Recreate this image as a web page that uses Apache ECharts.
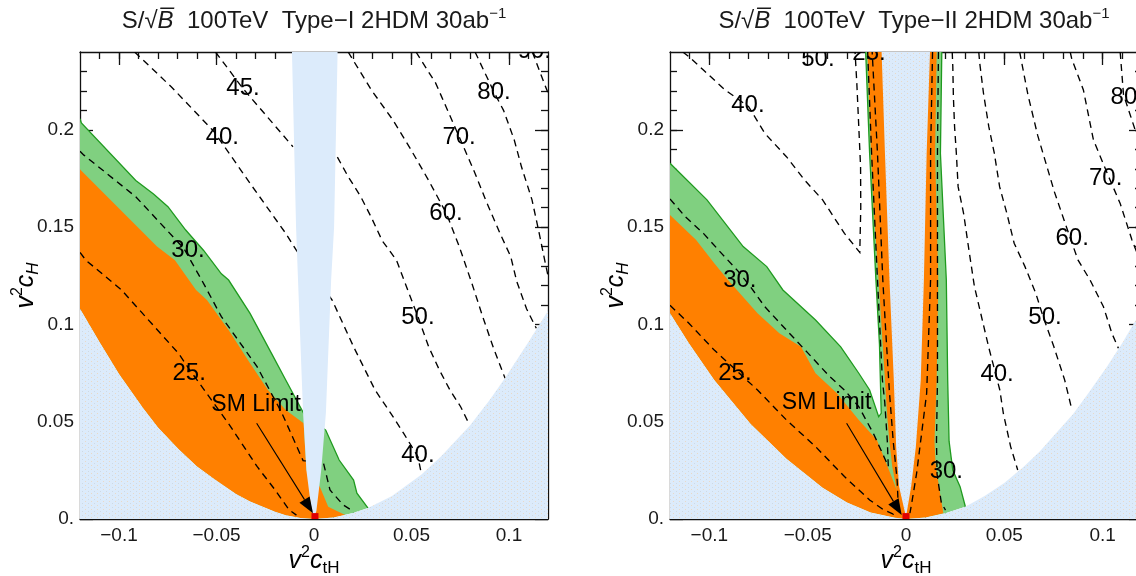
<!DOCTYPE html>
<html><head><meta charset="utf-8">
<script src="https://cdn.jsdelivr.net/npm/echarts@6/dist/echarts.min.js"></script>
<style>html,body{margin:0;padding:0;background:#fff}#c{width:1136px;height:576px}</style>
</head><body><div id="c"></div>
<script>
// ---------------- axes ----------------
const X_RANGE = [-0.12, 0.12];
const Y_RANGE = [0, 0.24];
const X_MAJOR = [-0.1, -0.05, 0, 0.05, 0.1];
const X_MINOR = [-0.11,-0.1,-0.09,-0.08,-0.07,-0.06,-0.05,-0.04,-0.03,-0.02,-0.01,0,0.01,0.02,0.03,0.04,0.05,0.06,0.07,0.08,0.09,0.1,0.11];
const Y_MAJOR = [0, 0.05, 0.1, 0.15, 0.2];
const Y_MINOR = [0.01,0.02,0.03,0.04,0.05,0.06,0.07,0.08,0.09,0.1,0.11,0.12,0.13,0.14,0.15,0.16,0.17,0.18,0.19,0.2,0.21,0.22,0.23];
const TITLES = ['Type\u2212I', 'Type\u2212II'];

// ---------------- Panel A (Type-I) ----------------
const A_BLUE_EDGE = [[-0.12,0.108],[-0.11,0.091],[-0.1,0.0745],[-0.0877,0.057],[-0.08,0.047],[-0.0694,0.0358],[-0.06,0.027],[-0.0512,0.0205],[-0.04,0.0128],[-0.0328,0.009],[-0.02,0.0037],[-0.0145,0.0019],[-0.007,0.0005],[0,0],[0.01,0.0008],[0.02,0.0031],[0.0277,0.0056],[0.04,0.0118],[0.055,0.0228],[0.065,0.032],[0.08,0.048],[0.09,0.061],[0.098,0.0724],[0.11,0.091],[0.12,0.107]];
const A_WEDGE = [[-0.0113,0.24],[0.0121,0.24],[0.0103,0.15],[0.0088,0.123],[0.0061,0.0545],[0.0037,0.025],[0.0012,0.004],[0,0.001],[-0.0012,0.004],[-0.0039,0.025],[-0.0056,0.0545],[-0.0082,0.123],[-0.0092,0.15]];
const A_GREEN_EDGE = [[-0.12,0.2057],[-0.1193,0.2035],[-0.0914,0.174],[-0.0823,0.167],[-0.0749,0.1605],[-0.0658,0.1485],[-0.0566,0.138],[-0.0475,0.126],[-0.0438,0.1228],[-0.0328,0.1057],[-0.0218,0.0851],[-0.0145,0.0714],[-0.0053,0.0543],[0.006,0.0457],[0.0129,0.0303],[0.0203,0.02],[0.022,0.0133],[0.0277,0.0056]];
const A_ORANGE_EDGE = [[-0.12,0.1798],[-0.1193,0.179],[-0.0805,0.14],[-0.0713,0.133],[-0.0605,0.1177],[-0.0549,0.1125],[-0.0438,0.0971],[-0.0328,0.08],[-0.0236,0.0663],[-0.0145,0.056],[-0.0053,0.0492],[-0.0039,0.025],[0.003,0.0166],[0.0073,0.0063],[0.016,0.002]];
const A_C25 = [[-0.12,0.137],[-0.117,0.133],[-0.099,0.118],[-0.0694,0.085],[-0.064,0.077],[-0.0438,0.049],[-0.0292,0.027],[-0.02,0.015],[-0.0127,0.0046],[-0.009,0.002]];
const A_C30 = [[-0.12,0.189],[-0.118,0.187],[-0.0914,0.1656],[-0.0667,0.139],[-0.0566,0.121],[-0.0475,0.104],[-0.0292,0.0783],[-0.0164,0.0543],[-0.0056,0.03],[0.0048,0.029],[0.0082,0.0149],[0.015,0.0072],[0.02,0.004]];
const A_C40 = [[-0.092,0.24],[-0.0731,0.222],[-0.0512,0.199],[-0.0328,0.1725],[-0.0145,0.1468],[-0.009,0.138],[0.0093,0.1125],[0.0203,0.0885],[0.0313,0.0663],[0.0405,0.0526],[0.046,0.044],[0.0533,0.032],[0.055,0.0235]];
const A_C45 = [[-0.0505,0.24],[-0.0365,0.2213],[-0.0255,0.2085],[-0.0108,0.1913]];
const A_C50 = [[0.012,0.186],[0.0175,0.176],[0.024,0.1656],[0.0294,0.155],[0.035,0.143],[0.0423,0.133],[0.0487,0.116],[0.0533,0.104],[0.0588,0.0885],[0.0643,0.0766],[0.0697,0.0663],[0.0752,0.0577],[0.0798,0.0483]];
const A_C60 = [[0.0175,0.24],[0.0294,0.2205],[0.0405,0.205],[0.0496,0.19],[0.0588,0.174],[0.0679,0.157],[0.0745,0.14],[0.081,0.121],[0.0865,0.104],[0.092,0.088],[0.098,0.0723]];
const A_C70 = [[0.0523,0.24],[0.0624,0.224],[0.0744,0.1965],[0.0826,0.1776],[0.088,0.164],[0.0954,0.1468],[0.1009,0.1348],[0.104,0.122],[0.109,0.108],[0.114,0.098]];
const A_C80 = [[0.0826,0.24],[0.0926,0.2188],[0.0972,0.21],[0.1027,0.1948],[0.1064,0.181],[0.1118,0.164],[0.1155,0.1468],[0.1183,0.133],[0.12,0.125]];
const A_C90 = [[0.112,0.24],[0.1165,0.228],[0.12,0.219]];
const A_LABELS = [['45.',-0.0364,0.2215],['40.',-0.047,0.196],['30.',-0.0646,0.138],['25.',-0.064,0.075],['80.',0.0923,0.219],['70.',0.0744,0.1963],['60.',0.0677,0.157],['50.',0.0533,0.1038],['40.',0.0533,0.0329],['90.',0.113,0.2405]];
const A_SM_TEXT = [-0.0297, 0.059];
const A_ARROW = [[-0.0294,0.0492],[-0.0005,0.003]];
const A_ORIGIN = [0.0005, 0.0015];

// ---------------- Panel B (Type-II) ----------------
const B_BLUE_EDGE = [[-0.12,0.1057],[-0.1104,0.0903],[-0.0975,0.0714],[-0.0791,0.049],[-0.0608,0.031],[-0.0424,0.016],[-0.03,0.0085],[-0.018,0.0033],[-0.0056,0.0006],[0,0],[0.01,0.0008],[0.02,0.003],[0.0302,0.0063],[0.04,0.0118],[0.05,0.0185],[0.06,0.027],[0.068,0.0347],[0.085,0.054],[0.093,0.065],[0.102,0.078],[0.11,0.0905],[0.117,0.1025],[0.12,0.108]];
const B_WEDGE = [[-0.0124,0.24],[0.0122,0.24],[0.0105,0.188],[0.0091,0.123],[0.0075,0.0714],[0.005,0.037],[0.0026,0.0166],[0,0.001],[-0.0035,0.0166],[-0.005,0.037],[-0.0062,0.0714],[-0.0084,0.123],[-0.0107,0.188]];
const B_GREEN_L_EDGE = [[-0.12,0.1828],[-0.1012,0.164],[-0.0828,0.14],[-0.0708,0.1297],[-0.0626,0.1177],[-0.046,0.1023],[-0.0332,0.0885],[-0.024,0.0749],[-0.0185,0.0663],[-0.0139,0.0526],[-0.0126,0.0543],[-0.0135,0.09],[-0.0153,0.123],[-0.0185,0.188],[-0.0205,0.24]];
const B_GREEN_R_EDGE = [[0.0182,0.24],[0.0175,0.188],[0.0205,0.123],[0.0212,0.0714],[0.0219,0.04],[0.0238,0.025],[0.0275,0.0166],[0.0302,0.0063]];
const B_ORANGE_L_EDGE = [[-0.12,0.1562],[-0.1067,0.1434],[-0.0975,0.1314],[-0.0905,0.1228],[-0.0755,0.1057],[-0.0644,0.0954],[-0.0534,0.0885],[-0.046,0.0749],[-0.0351,0.0646],[-0.024,0.0509],[-0.0148,0.0406],[-0.0093,0.0269],[-0.0047,0.0149],[-0.007,0.027],[-0.0085,0.0406],[-0.0095,0.052],[-0.0107,0.0714],[-0.0125,0.1],[-0.0139,0.123],[-0.0165,0.16],[-0.0178,0.188],[-0.0196,0.24]];
const B_ORANGE_R_EDGE = [[0.0156,0.24],[0.0148,0.188],[0.0164,0.123],[0.0156,0.0714],[0.0145,0.04],[0.015,0.0288],[0.017,0.015],[0.019,0.0029]];
const B_C25 = [[-0.12,0.1098],[-0.1104,0.1006],[-0.0975,0.0868],[-0.0755,0.0663],[-0.0608,0.0509],[-0.046,0.0372],[-0.0313,0.0218],[-0.0185,0.0098],[-0.0112,0.0046],[-0.0065,0.0025],[-0.004,0.008],[-0.0045,0.02],[-0.0065,0.04],[-0.0085,0.0663],[-0.0105,0.1],[-0.0118,0.123],[-0.0145,0.188],[-0.0172,0.24]];
const B_C25R = [[0.0135,0.24],[0.0125,0.188],[0.0125,0.123],[0.0105,0.0646],[0.0088,0.0509],[0.0071,0.0372],[0.0054,0.0235],[0.0029,0.0081],[0.002,0.003]];
const B_C30 = [[-0.12,0.1645],[-0.1122,0.1553],[-0.103,0.1468],[-0.0938,0.1365],[-0.0855,0.1275],[-0.0791,0.1194],[-0.0718,0.1091],[-0.0608,0.0971],[-0.0497,0.0851],[-0.0387,0.0731],[-0.0313,0.0663],[-0.024,0.0577],[-0.0166,0.044],[-0.0112,0.032],[-0.009,0.027],[-0.0095,0.04],[-0.0108,0.06],[-0.012,0.0714],[-0.0145,0.123],[-0.0175,0.188],[-0.0195,0.24]];
const B_C30R = [[0.0165,0.24],[0.016,0.188],[0.016,0.123],[0.016,0.0714],[0.0155,0.04],[0.0158,0.023],[0.018,0.0081],[0.0201,0.0046]];
const B_C40 = [[-0.1135,0.24],[-0.1104,0.2376],[-0.103,0.2307],[-0.092,0.2205],[-0.08,0.2119],[-0.0718,0.1982],[-0.0608,0.1862],[-0.0516,0.1742],[-0.0424,0.164],[-0.0313,0.1468],[-0.0235,0.137],[-0.023,0.16],[-0.0231,0.181],[-0.025,0.2238],[-0.0259,0.24]];
const B_C40R = [[0.0235,0.24],[0.0238,0.2325],[0.0241,0.217],[0.0247,0.2016],[0.0256,0.188],[0.0265,0.1708],[0.0293,0.157],[0.032,0.1382],[0.0348,0.1194],[0.042,0.0885],[0.0477,0.0663],[0.0495,0.0543],[0.0532,0.0372],[0.0568,0.0252]];
const B_C50 = [[0.037,0.24],[0.0375,0.2342],[0.0394,0.2188],[0.0421,0.2016],[0.0449,0.188],[0.0476,0.1708],[0.0513,0.157],[0.055,0.1417],[0.0605,0.1297],[0.066,0.116],[0.0697,0.104],[0.0752,0.0885],[0.0807,0.0714],[0.0844,0.056]];
const B_C60 = [[0.0578,0.24],[0.062,0.218],[0.067,0.197],[0.0755,0.168],[0.0835,0.1444],[0.0875,0.133],[0.0936,0.1228],[0.1004,0.1091],[0.1047,0.0954],[0.108,0.0877]];
const B_C70 = [[0.0835,0.24],[0.0843,0.2364],[0.0902,0.2205],[0.0953,0.1948],[0.103,0.176],[0.1089,0.1622],[0.1149,0.1434],[0.12,0.13]];
const B_C80 = [[0.1089,0.24],[0.1106,0.2181],[0.1165,0.2],[0.12,0.19]];
const B_LABELS = [['50.',-0.0448,0.2364],['40.',-0.0804,0.2127],['30.',-0.0845,0.1228],['25.',-0.087,0.075],['25.',-0.0188,0.2395],['30.',0.0205,0.0245],['40.',0.0463,0.0745],['50.',0.0707,0.1035],['60.',0.0845,0.1444],['70.',0.1015,0.1752],['80.',0.1125,0.2165]];
const B_SM_TEXT = [-0.0404, 0.0596];
const B_ARROW = [[-0.0302,0.0492],[-0.0022,0.002]];
const B_ORIGIN = [0, 0.0015];

// ---------------- styling ----------------
const F = "'Liberation Sans', Arial, Helvetica, sans-serif";
const BLUE = '#dcebfb', GREEN = '#80d080', GREEN_LINE = '#1f9a1f', ORANGE = '#ff8000';
const LINE = {color:'#111', width:1.3};

// faint dotted texture of the excluded regions
function makePattern(){
  const cv = document.createElement('canvas');
  cv.width = 6; cv.height = 4;
  const ctx = cv.getContext('2d');
  ctx.fillStyle = BLUE; ctx.fillRect(0, 0, 6, 4);
  ctx.fillStyle = '#ead9c6'; ctx.fillRect(1, 1, 1, 1);
  ctx.fillStyle = '#cfd9e3'; ctx.fillRect(4, 3, 1, 1);
  return {image: cv, repeat: 'repeat'};
}
const BLUE_PAT = makePattern();

function fmtX(v){ if (Math.abs(v) < 1e-9) return '0'; return (v < 0 ? '\u2212' : '') + String(Math.abs(v)); }
function fmtY(v){ if (Math.abs(v) < 1e-9) return '0.'; return String(v); }

const nameRich = {
  i: {fontFamily:F, fontStyle:'italic', fontSize:25, color:'#000', lineHeight:32},
  sup: {fontFamily:F, fontSize:16, color:'#000', verticalAlign:'top', lineHeight:32},
  sub: {fontFamily:F, fontSize:17, color:'#000', verticalAlign:'bottom', lineHeight:32},
  subi: {fontFamily:F, fontSize:17, fontStyle:'italic', color:'#000', verticalAlign:'bottom', lineHeight:32}
};

function axesFor(g, isX){
  const common = {gridIndex:g, type:'value', min: isX?X_RANGE[0]:Y_RANGE[0], max: isX?X_RANGE[1]:Y_RANGE[1],
    splitLine:{show:false}, silent:true};
  const major = isX?X_MAJOR:Y_MAJOR, minor = isX?X_MINOR:Y_MINOR;
  const pos = isX?['bottom','top']:['left','right'];
  const main = Object.assign({}, common, {position:pos[0],
    axisLine:{show:true,onZero:false,lineStyle:LINE},
    axisTick:{show:true,inside:true,length:13,customValues:major,lineStyle:LINE},
    axisLabel:{show:true,customValues:major,formatter:isX?fmtX:fmtY,fontFamily:F,fontSize:19,color:'#1a1a1a',margin:isX?7:6},
    name: isX ? '{i|v}{sup|2}{i|c}{sub|tH}' : '{i|v}{sup|2}{i|c}{subi|H}',
    nameLocation:'middle', nameGap: isX?26:38, nameRotate: isX?0:90, nameMoveOverlap:false,
    nameTextStyle:{rich:nameRich}
  });
  const minorA = Object.assign({}, common, {position:pos[0], axisLine:{show:false,onZero:false},
    axisTick:{show:true,inside:true,length:7,customValues:minor,lineStyle:LINE}, axisLabel:{show:false}});
  const opp = Object.assign({}, common, {position:pos[1], axisLine:{show:true,onZero:false,lineStyle:LINE},
    axisTick:{show:true,inside:true,length:13,customValues:major,lineStyle:LINE}, axisLabel:{show:false}});
  const oppMinor = Object.assign({}, common, {position:pos[1], axisLine:{show:false,onZero:false},
    axisTick:{show:true,inside:true,length:7,customValues:minor,lineStyle:LINE}, axisLabel:{show:false}});
  return [main, minorA, opp, oppMinor];
}

function base(g, z, render){
  return {type:'custom', coordinateSystem:'cartesian2d', xAxisIndex:g*4, yAxisIndex:g*4,
    clip:true, silent:true, animation:false, z:z, data:[[0,0]], renderItem:render};
}
function polygon(g, pts, fill, z){
  return base(g, z, (p, api) => ({type:'polygon', shape:{points: pts.map(q => api.coord(q))}, style:{fill:fill}}));
}
function polyline(g, pts, style, z){
  return base(g, z, (p, api) => ({type:'polyline', shape:{points: pts.map(q => api.coord(q))}, style:Object.assign({fill:null}, style)}));
}
function dashed(g, pts){ return polyline(g, pts, {stroke:'#000', lineWidth:1.35, lineDash:[7,5]}, 4); }
function labels(g, arr){
  return base(g, 6, (p, api) => ({type:'group', children: arr.map(a => {
    const c = api.coord([a[1], a[2]]);
    return {type:'text', x:c[0], y:c[1], style:{text:a[0], fill:'#000', fontSize:24, fontFamily:F,
      align:'center', verticalAlign:'middle', textAlign:'center', textVerticalAlign:'middle'}};
  })}));
}
function smLimit(g, textPos, arrow, origin){
  return base(g, 7, (p, api) => {
    const t = api.coord(textPos), a = api.coord(arrow[0]), b = api.coord(arrow[1]), o = api.coord(origin);
    const dx = b[0]-a[0], dy = b[1]-a[1], L = Math.hypot(dx, dy), ux = dx/L, uy = dy/L;
    const hl = 16, hw = 6;
    const bx = b[0]-ux*hl, by = b[1]-uy*hl;
    return {type:'group', children:[
      {type:'rect', shape:{x:o[0]-3.5, y:o[1]-3, width:7, height:6}, style:{fill:'#e00000'}},
      {type:'line', shape:{x1:a[0], y1:a[1], x2:bx, y2:by}, style:{stroke:'#000', lineWidth:1.1}},
      {type:'polygon', shape:{points:[[b[0],b[1]],[bx-uy*hw, by+ux*hw],[bx+uy*hw, by-ux*hw]]}, style:{fill:'#000'}},
      {type:'text', x:t[0], y:t[1], style:{text:'SM Limit', fill:'#000', fontSize:23, fontFamily:F,
        align:'center', verticalAlign:'middle', textAlign:'center', textVerticalAlign:'middle'}}
    ]};
  });
}

const below = (edge, x) => edge.filter(p => p[0] < x).reverse();

function panelSeries(g, d){
  const s = [];
  d.green.forEach(gr => s.push(polygon(g, gr, GREEN, 1)));
  d.orange.forEach(or => s.push(polygon(g, or, ORANGE, 2)));
  d.greenEdges.forEach(e => s.push(polyline(g, e, {stroke:GREEN_LINE, lineWidth:1.3}, 3)));
  d.contours.forEach(c => s.push(dashed(g, c)));
  s.push(polygon(g, d.blue.concat([[X_RANGE[1], Y_RANGE[0]], [X_RANGE[0], Y_RANGE[0]]]), BLUE_PAT, 5));
  s.push(polygon(g, d.wedge, d.wedgeFill, 5));
  s.push(labels(g, d.labels));
  s.push(smLimit(g, d.smText, d.arrow, d.origin));
  return s;
}

const A = {
  blue: A_BLUE_EDGE, wedge: A_WEDGE, wedgeFill: BLUE,
  green: [A_GREEN_EDGE.concat(below(A_BLUE_EDGE, A_GREEN_EDGE[A_GREEN_EDGE.length-1][0]))],
  orange: [A_ORANGE_EDGE.concat(below(A_BLUE_EDGE, A_ORANGE_EDGE[A_ORANGE_EDGE.length-1][0]))],
  greenEdges: [A_GREEN_EDGE],
  contours: [A_C25, A_C30, A_C40, A_C45, A_C50, A_C60, A_C70, A_C80, A_C90],
  labels: A_LABELS, smText: A_SM_TEXT, arrow: A_ARROW, origin: A_ORIGIN
};
const CENTER = 0; // symmetry axis of the central excluded wedge
const B = {
  blue: B_BLUE_EDGE, wedge: B_WEDGE, wedgeFill: BLUE_PAT,
  green: [
    B_GREEN_L_EDGE.concat([[CENTER, Y_RANGE[1]], [CENTER, 0]]).concat(below(B_BLUE_EDGE, CENTER)),
    [[CENTER, Y_RANGE[1]]].concat(B_GREEN_R_EDGE).concat(below(B_BLUE_EDGE, B_GREEN_R_EDGE[B_GREEN_R_EDGE.length-1][0]).filter(p => p[0] >= CENTER))
  ],
  orange: [
    B_ORANGE_L_EDGE.concat([[CENTER, Y_RANGE[1]], [CENTER, 0]]).concat(below(B_BLUE_EDGE, CENTER)),
    [[CENTER, Y_RANGE[1]]].concat(B_ORANGE_R_EDGE).concat(below(B_BLUE_EDGE, B_ORANGE_R_EDGE[B_ORANGE_R_EDGE.length-1][0]).filter(p => p[0] >= CENTER))
  ],
  greenEdges: [B_GREEN_L_EDGE, B_GREEN_R_EDGE],
  contours: [B_C25, B_C25R, B_C30, B_C30R, B_C40, B_C40R, B_C50, B_C60, B_C70, B_C80],
  labels: B_LABELS, smText: B_SM_TEXT, arrow: B_ARROW, origin: B_ORIGIN
};

const GRIDS = [
  {left:80, top:52, width:468, height:467},
  {left:670, top:52, width:472, height:467}
];

function titleGraphic(cx, tag){
  return {type:'text', x:cx, y:21, style:{
    text:'{t|S/\u221A}{b|B\u0305}{t|  100TeV  ' + tag + ' 2HDM 30ab}{s|\u22121}',
    align:'center', verticalAlign:'middle', textAlign:'center', textVerticalAlign:'middle',
    rich:{
      t:{fontFamily:F, fontSize:24, fill:'#1a1a1a', color:'#1a1a1a', lineHeight:30},
      b:{fontFamily:F, fontSize:24, fontStyle:'italic', fill:'#1a1a1a', color:'#1a1a1a', lineHeight:30},
      s:{fontFamily:F, fontSize:15, fill:'#1a1a1a', color:'#1a1a1a', verticalAlign:'top', lineHeight:30}
    }
  }};
}

const option = {
  animation:false,
  backgroundColor:'#fff',
  grid: GRIDS.map(g => Object.assign({containLabel:false, outerBoundsMode:'none'}, g)),
  xAxis: axesFor(0, true).concat(axesFor(1, true)),
  yAxis: axesFor(0, false).concat(axesFor(1, false)),
  series: panelSeries(0, A).concat(panelSeries(1, B)),
  graphic: [titleGraphic(314, TITLES[0]), titleGraphic(914, TITLES[1])]
};

const chart = echarts.init(document.getElementById('c'), null, {renderer:'canvas', width:1136, height:576});
chart.setOption(option);
</script>
</body></html>
